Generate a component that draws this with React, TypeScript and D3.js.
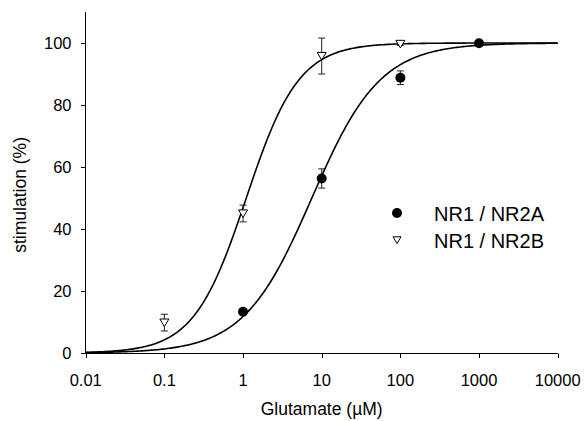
import React from "react";
import * as d3 from "d3";

// concentrations (µM) and responses
const nr2aConc = [1, 10, 100, 1000];
const nr2aMean = [13.3, 56.3, 88.8, 99.9];
const nr2aErr = [0.8, 3.1, 2.2, 0.5];

const nr2bConc = [0.1, 1, 10, 100];
const nr2bMean = [9.8, 45, 95.8, 99.7];
const nr2bErr = [2.7, 2.7, 5.8, 0.5];

// Hill fit parameters (EC50 in µM, Hill slope)
const nr2aFit = { ec50: 7.5, n: 1.0 };
const nr2bFit = { ec50: 1.1, n: 1.3 };

const xTicks = [0.01, 0.1, 1, 10, 100, 1000, 10000];
const xTickLabels = ["0.01", "0.1", "1", "10", "100", "1000", "10000"];
const yTicks = [0, 20, 40, 60, 80, 100];

const legendLabels = ["NR1 / NR2A", "NR1 / NR2B"];

const W = 585;
const H = 421;
const font = "'Liberation Sans', Arial, sans-serif";

const x = d3.scaleLog().domain([0.01, 10000]).range([85.7, 557.7]);
const y = d3.scaleLinear().domain([0, 110]).range([353, 12]);

const hill = (c: number, p: { ec50: number; n: number }) =>
  100 / (1 + Math.pow(p.ec50 / c, p.n));

function fitPath(p: { ec50: number; n: number }) {
  const lx = d3.scaleLinear().domain([0, 300]).range([-2, 4]);
  const cs = d3.range(0, 301).map((i) => Math.pow(10, lx(i)));
  return d3
    .line<number>()
    .x((c) => x(c))
    .y((c) => y(hill(c, p)))(cs) as string;
}

const tri = (cx: number, cy: number, s: number) =>
  `M${cx - s},${cy - s * 0.8}L${cx + s},${cy - s * 0.8}L${cx},${cy + s * 0.9}Z`;

function ErrorBars({ conc, mean, err }: { conc: number[]; mean: number[]; err: number[] }) {
  return (
    <g stroke="#222" strokeWidth={1}>
      {conc.map((c, i) => {
        const cx = x(c);
        const t = y(mean[i] + err[i]);
        const b = y(mean[i] - err[i]);
        return (
          <g key={i}>
            <line x1={cx} x2={cx} y1={t} y2={b} />
            <line x1={cx - 3.5} x2={cx + 3.5} y1={t} y2={t} />
            <line x1={cx - 3.5} x2={cx + 3.5} y1={b} y2={b} />
          </g>
        );
      })}
    </g>
  );
}

export default function App() {
  return (
    <div style={{ position: "absolute", left: 0, top: 0 }}>
      <svg width={W} height={H} style={{ display: "block", background: "#fff" }} fontFamily={font}>
        {/* fitted curves */}
        <path d={fitPath(nr2aFit)} fill="none" stroke="#000" strokeWidth={1.6} />
        <path d={fitPath(nr2bFit)} fill="none" stroke="#000" strokeWidth={1.6} />

        <ErrorBars conc={nr2aConc} mean={nr2aMean} err={nr2aErr} />
        <ErrorBars conc={nr2bConc} mean={nr2bMean} err={nr2bErr} />

        {nr2aConc.map((c, i) => (
          <circle key={i} cx={x(c)} cy={y(nr2aMean[i])} r={5} fill="#000" />
        ))}
        {nr2bConc.map((c, i) => (
          <path key={i} d={tri(x(c), y(nr2bMean[i]), 4.5)} fill="#fff" stroke="#000" strokeWidth={1} />
        ))}

        {/* axes */}
        <g stroke="#000" strokeWidth={1}>
          <line x1={x.range()[0]} x2={x.range()[1]} y1={353.5} y2={353.5} />
          <line x1={85.5} x2={85.5} y1={12} y2={353.5} />
          {xTicks.map((t) => (
            <line key={t} x1={Math.round(x(t)) + 0.5} x2={Math.round(x(t)) + 0.5} y1={353.5} y2={358} />
          ))}
          {yTicks.map((t) => (
            <line key={t} x1={81} x2={85.5} y1={Math.round(y(t)) + 0.5} y2={Math.round(y(t)) + 0.5} />
          ))}
        </g>
        <g fontSize={16.5} fill="#000">
          {xTicks.map((t, i) => (
            <text key={t} x={x(t)} y={385.5} textAnchor="middle">
              {xTickLabels[i]}
            </text>
          ))}
          {yTicks.map((t) => (
            <text key={t} x={71.5} y={y(t) + 6} textAnchor="end">
              {t}
            </text>
          ))}
        </g>
        <text x={x(10)} y={415} textAnchor="middle" fontSize={17.5}>
          Glutamate (µM)
        </text>
        <text transform={`translate(26,${y(51)}) rotate(-90)`} textAnchor="middle" fontSize={17.5}>
          stimulation (%)
        </text>

        {/* legend */}
        <circle cx={397} cy={213} r={5} fill="#000" />
        <path d={tri(397, 240, 4)} fill="#fff" stroke="#000" strokeWidth={1} />
        <text x={434} y={220.5} fontSize={20}>
          {legendLabels[0]}
        </text>
        <text x={434} y={247.5} fontSize={20}>
          {legendLabels[1]}
        </text>
      </svg>
    </div>
  );
}
